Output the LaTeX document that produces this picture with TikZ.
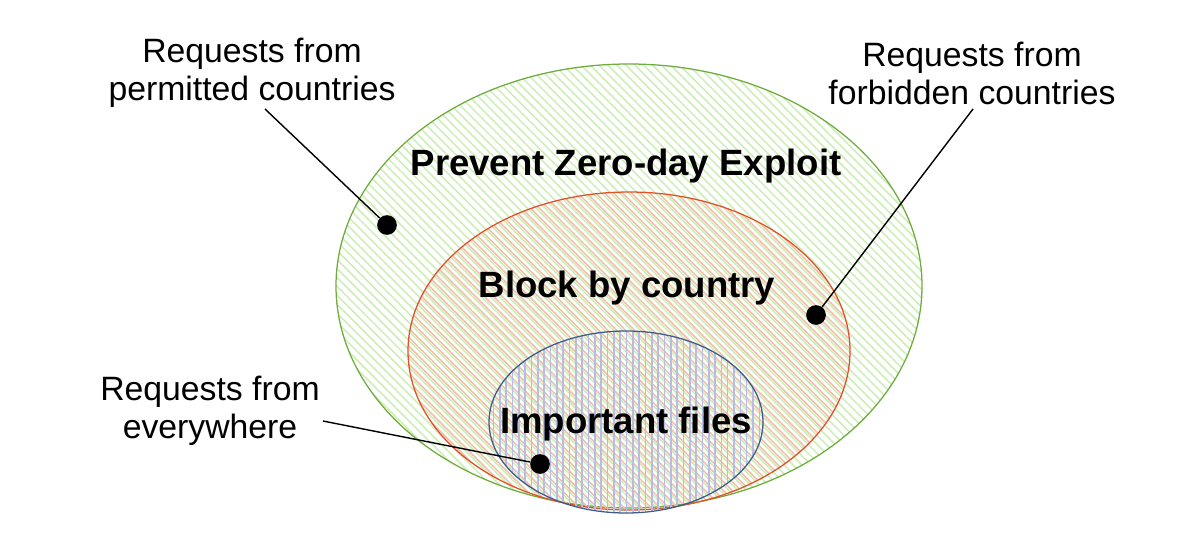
\documentclass[tikz,border=0pt]{standalone}
\usepackage{fontspec}
\setmainfont{Liberation Sans}
\usepackage{tikz}
\usetikzlibrary{patterns.meta}

\definecolor{zeroline}{RGB}{110,172,62}
\definecolor{zerohatch}{RGB}{204,238,182}
\definecolor{countryline}{RGB}{226,80,40}
\definecolor{countryhatch}{RGB}{242,190,168}
\definecolor{fileline}{RGB}{60,92,140}
\definecolor{filehatch}{RGB}{180,188,234}

\tikzset{
    lbl/.style={align=center, font=\fontsize{24}{27}\selectfont},
    title/.style={font=\fontsize{26}{28}\selectfont\bfseries},
    dot/.style={circle, fill=black, inner sep=0pt, minimum size=14pt},
}

\begin{document}
\begin{tikzpicture}[x=0.025cm, y=-0.025cm]
        \useasboundingbox (0,0) rectangle (1200,540);

        % sets
        \path[pattern={Lines[angle=-45, distance=4.5pt, line width=1.1pt]}, pattern color=zerohatch] (629,286) ellipse (293 and 222);
        \draw[zeroline, line width=0.9pt] (629,286) ellipse (293 and 222);
        \path[pattern={Lines[angle=-45, distance=4.5pt, yshift=2.2pt, line width=1.1pt]}, pattern color=countryhatch] (629,351) ellipse (221 and 159);
        \draw[countryline, line width=0.9pt] (629,351) ellipse (221 and 159);
        \path[pattern={Lines[angle=90, distance=4.5pt, line width=1.1pt]}, pattern color=filehatch] (626,422) ellipse (137 and 91);
        \draw[fileline, line width=0.9pt] (626,422) ellipse (137 and 91);

        \node[title] (zero) at (626,166) {Prevent Zero-day Exploit};
        \node[title] (country) at (627,288) {Block by country};
        \node[title] (files) at (626,424) {Important files};

        \node[lbl] (permitted) at (252,73) {Requests from\\permitted countries};
        \node[lbl] (forbidden) at (972,73) {Requests from\\forbidden countries};
        \node[lbl] (everywhere) at (210,411) {Requests from\\everywhere};

        \node[dot] (pdot) at (387,225) {};
        \node[dot] (fdot) at (816,315) {};
        \node[dot] (edot) at (540,464) {};

        \coordinate (pstart) at (265,109);
        \coordinate (fstart) at (973,109);
        \coordinate (estart) at (323,421);

        \draw[line width=1pt] (pstart) -- (pdot);
        \draw[line width=1pt] (fstart) -- (fdot);
        \draw[line width=1pt] (estart) -- (edot);
    \end{tikzpicture}
\end{document}
